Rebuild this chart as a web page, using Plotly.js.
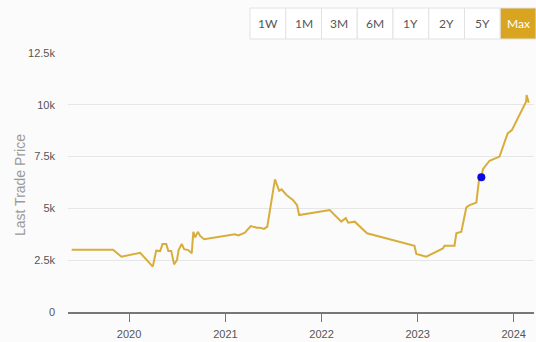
<!DOCTYPE html>
<html>
<head>
<meta charset="utf-8">
<script src="https://cdn.plot.ly/plotly-3.0.1.min.js"></script>
<style>html,body{margin:0;padding:0;background:#fbfbfb;}#chart{width:536px;height:342px;}</style>
</head>
<body>
<div id="chart"></div>
<script>
const dates = [
 "2019-05-28","2019-11-01","2019-12-03","2020-02-12","2020-03-31","2020-04-13","2020-04-28",
 "2020-05-07","2020-05-21","2020-05-29","2020-06-09","2020-06-20","2020-07-01","2020-07-07",
 "2020-07-19","2020-07-28","2020-08-13","2020-08-26","2020-09-01","2020-09-08","2020-09-18",
 "2020-09-27","2020-10-12","2021-02-06","2021-02-19","2021-03-16","2021-04-07","2021-04-30",
 "2021-05-12","2021-05-28","2021-06-09","2021-07-08","2021-07-24","2021-08-02","2021-08-21",
 "2021-09-15","2021-09-30","2021-10-08","2022-02-01","2022-03-17","2022-04-03","2022-04-12",
 "2022-05-07","2022-06-23","2022-12-20","2022-12-27","2023-02-03","2023-04-07","2023-04-13",
 "2023-05-21","2023-05-28","2023-06-16","2023-07-05","2023-07-17","2023-08-12","2023-08-22",
 "2023-08-31","2023-09-06","2023-10-01","2023-11-08","2023-12-09","2023-12-25","2024-02-17",
 "2024-02-19","2024-02-27"
];
const prices = [
 3000,3000,2670,2860,2190,2960,2940,
 3280,3280,2950,2950,2300,2510,2990,
 3280,3030,2990,2830,3870,3600,3870,
 3670,3510,3750,3700,3830,4150,4070,
 4070,4010,4120,6400,5850,5920,5650,
 5400,5160,4680,4920,4360,4530,4310,
 4360,3800,3200,2800,2670,3070,3200,
 3200,3800,3870,5050,5160,5280,6370,
 6500,6890,7300,7500,8620,8780,10150,
 10470,10100
];
const markerDate = ["2023-08-31"];
const markerPrice = [6500];
const buttonLabels = ["1W","1M","3M","6M","1Y","2Y","5Y","Max"];
const activeButton = "Max";
const yTicks = [0,2500,5000,7500,10000,12500];
const xTickDates = ["2020-01-01","2021-01-01","2022-01-01","2023-01-01","2024-01-01"];
const xTickLabels = ["2020","2021","2022","2023","2024"];
const yTitle = "Last Trade Price";

// layout geometry (pixels)
const W = 536, H = 342, mL = 68, mR = 2, mT = 53, mB = 30;
const pw = W - mL - mR, ph = H - mT - mB;
const px = x => (x - mL) / pw;
const py = y => (H - mB - y) / ph;

const shapes = [], annotations = [];
const gL = 250, gR = 536, gT = 8, gB = 39;
const cw = (gR - gL) / buttonLabels.length;
buttonLabels.forEach((lab, i) => {
  const x0 = gL + i * cw, x1 = x0 + cw;
  const active = lab === activeButton;
  shapes.push({type:"rect", xref:"paper", yref:"paper", x0:px(x0), x1:px(x1), y0:py(gB), y1:py(gT),
    fillcolor: active ? "#d9a520" : "#ffffff", line:{color:"#e2e2e2", width:1}, layer:"above"});
  annotations.push({xref:"paper", yref:"paper", x:px((x0+x1)/2), y:py((gT+gB)/2), text:lab,
    showarrow:false, xanchor:"center", yanchor:"middle",
    font:{family:"Lato, 'Open Sans', sans-serif", size:12, color: active ? "#ffffff" : "#555555"}});
});
// y-axis title placed as rotated text
annotations.push({xref:"paper", yref:"paper", x:px(20), y:py(185), text:yTitle, textangle:-90,
  showarrow:false, xanchor:"center", yanchor:"middle",
  font:{family:"'Liberation Sans', Arial, sans-serif", size:14, color:"#9a9a9a"}});

const data = [
  {x:dates, y:prices, type:"scatter", mode:"lines", line:{color:"#d8ad3a", width:2}, hoverinfo:"skip"},
  {x:markerDate, y:markerPrice, type:"scatter", mode:"markers", marker:{color:"#0a0ae0", size:8}, hoverinfo:"skip"}
];
const layout = {
  width:W, height:H,
  margin:{l:mL, r:mR, t:mT, b:mB},
  paper_bgcolor:"#fbfbfb", plot_bgcolor:"#fbfbfb",
  showlegend:false,
  font:{family:"'Liberation Sans', Arial, sans-serif", size:11, color:"#555"},
  xaxis:{type:"date", range:["2019-05-14","2024-03-18"], tickvals:xTickDates, ticktext:xTickLabels,
    showgrid:false, showline:true, linecolor:"#777", linewidth:1.5, ticks:"outside", ticklen:8, tickcolor:"#777",
    ticklabelstandoff:3, zeroline:false, tickfont:{size:11, color:"#555"}},
  yaxis:{range:[0,12500], tickvals:yTicks, tickformat:"~s", showgrid:true, gridcolor:"#e6e6e6",
    zeroline:false, showline:false, ticks:"", ticklabelstandoff:12,
    tickfont:{size:11, color:"#555"}},
  shapes:shapes, annotations:annotations
};
Plotly.newPlot("chart", data, layout, {staticPlot:true, displayModeBar:false});
</script>
</body>
</html>
